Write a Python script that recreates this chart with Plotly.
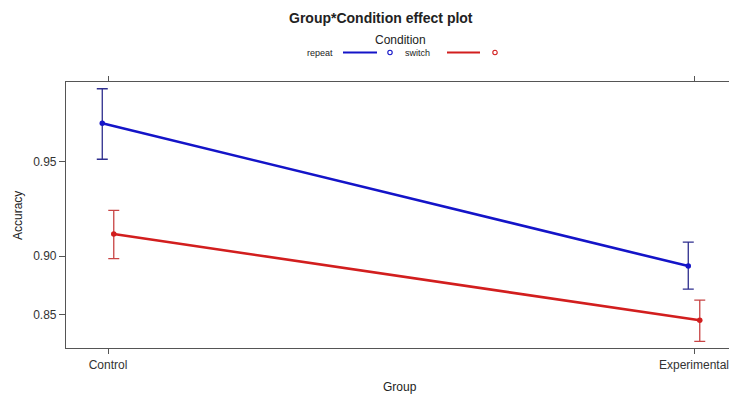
import numpy as np
import plotly.graph_objects as go

# Effect estimates (probability scale) with 95% confidence limits
groups = ["Control", "Experimental"]
conditions = ["repeat", "switch"]
fit = {"repeat": [0.9626, 0.8926], "switch": [0.9146, 0.8440]}
lower = {"repeat": [0.9509, 0.8738], "switch": [0.8982, 0.8208]}
upper = {"repeat": [0.9713, 0.9095], "switch": [0.9282, 0.8639]}
y_ticks = [0.85, 0.90, 0.95]

line_colors = {"repeat": "#1414c8", "switch": "#d21e1e"}
bar_colors = {"repeat": "#2e2e8e", "switch": "#c84444"}
dodge = {"repeat": -0.0098, "switch": 0.0098}


def logit(p):
    p = np.asarray(p, dtype=float)
    return np.log(p / (1 - p))


fig = go.Figure()
gx = np.arange(len(groups), dtype=float)
for cond in conditions:
    f = logit(fit[cond])
    lo = logit(lower[cond])
    hi = logit(upper[cond])
    fig.add_trace(go.Scatter(
        x=gx + dodge[cond], y=f, mode="lines+markers",
        line=dict(color=line_colors[cond], width=2.6),
        marker=dict(color=line_colors[cond], size=5.5),
        error_y=dict(type="data", symmetric=False, array=hi - f, arrayminus=f - lo,
                     color=bar_colors[cond], thickness=1.3, width=5.5),
        name=cond, showlegend=False,
    ))

# plot area geometry in pixels, used for placing the header key
L, T, B, W, H = 66, 82, 348, 663, 266


def px_x(px):
    return (px - L) / W


def px_y(py):
    return (B - py) / H


font = "Liberation Sans, Arial, sans-serif"
ann = [
    dict(text="<b>Group*Condition effect plot</b>", x=px_x(381), y=px_y(18), size=14),
    dict(text="Condition", x=px_x(400), y=px_y(40), size=12),
    dict(text="repeat", x=px_x(320), y=px_y(53), size=9),
    dict(text="switch", x=px_x(417), y=px_y(53), size=9),
    dict(text="Group", x=px_x(400), y=px_y(387), size=12),
]
annotations = [
    dict(text=a["text"], x=a["x"], y=a["y"], xref="paper", yref="paper",
         xanchor="center", yanchor="middle", showarrow=False,
         font=dict(family=font, size=a["size"], color="#222222"))
    for a in ann
]
annotations.append(dict(text="Accuracy", x=px_x(18), y=px_y(215), xref="paper", yref="paper",
                        xanchor="center", yanchor="middle", showarrow=False, textangle=-90,
                        font=dict(family=font, size=12, color="#222222")))

shapes = []
for cond, (x0, x1, cx) in zip(conditions, [(343, 377, 390), (447, 480, 495)]):
    shapes.append(dict(type="line", xref="paper", yref="paper",
                       x0=px_x(x0), x1=px_x(x1), y0=px_y(52.5), y1=px_y(52.5),
                       line=dict(color=line_colors[cond], width=1.8)))
    shapes.append(dict(type="circle", xref="paper", yref="paper",
                       xsizemode="pixel", ysizemode="pixel",
                       xanchor=px_x(cx), yanchor=px_y(52.5),
                       x0=-2.2, x1=2.2, y0=-2.2, y1=2.2,
                       line=dict(color=line_colors[cond], width=1.1)))

fig.update_layout(
    width=729, height=394,
    margin=dict(l=L, r=0, t=T, b=394 - B),
    paper_bgcolor="white", plot_bgcolor="white",
    font=dict(family=font, size=12, color="#333333"),
    annotations=annotations, shapes=shapes,
    showlegend=False,
)
fig.update_xaxes(
    range=[-0.0717, 1.0597], tickvals=list(gx), ticktext=groups,
    showline=True, linecolor="#555555", linewidth=1.2, mirror="ticks",
    ticks="outside", ticklen=5, tickcolor="#555555", showgrid=False, zeroline=False,
    tickfont=dict(size=12, color="#333333"), ticklabeloverflow="allow",
)
fig.update_yaxes(
    range=[1.469, 3.575], tickvals=list(logit(y_ticks)),
    ticktext=[f"{v:.2f}" for v in y_ticks],
    showline=True, linecolor="#555555", linewidth=1.2,
    ticks="outside", ticklen=6, tickcolor="#555555", showgrid=False, zeroline=False,
    tickfont=dict(size=12, color="#333333"),
)

fig.write_html("out.html")
